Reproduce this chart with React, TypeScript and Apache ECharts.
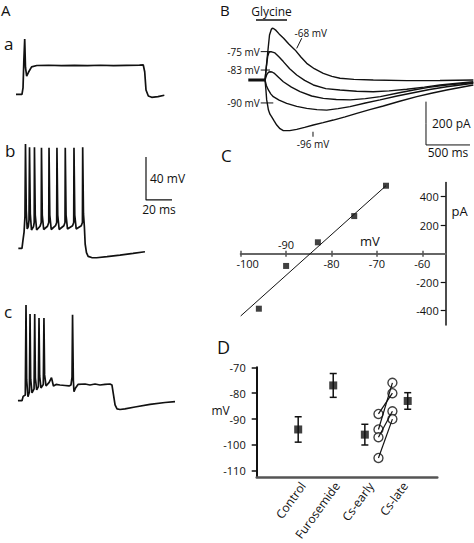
import React, { useEffect, useRef } from "react";
import * as echarts from "echarts";

const FONT = "'Open Sans', 'DejaVu Sans', sans-serif";

// ---- Panel A: membrane potential traces [time ms, potential mV] ----
const traceA: number[][] = [
  [0, -70], [4.6, -70], [5.4, -64], [6.0, -40], [6.7, -18.6], [7.3, -45], [8.2, -53],
  [9.6, -49.5], [12, -44.5], [16, -43.2], [25, -43.0], [35, -43.4], [45, -43.1],
  [55, -43.3], [65, -43.0], [75, -43.4], [85, -43.1], [95, -42.9], [97.9, -42.7],
  [99.0, -49], [100, -66], [101.8, -71.6], [104.4, -72.8], [109.2, -72.2], [114.1, -70.9],
];

const traceB: number[][] = [
  [1.8, -70], [4.6, -70], [5.3, -63], [6.2, -55], [6.9, -40], [7.3, 27], [7.9, -35],
  [8.6, -52], [9.4, -50], [10.0, -44], [10.4, 24], [11.0, -38], [11.9, -53], [13.4, -50],
  [14.0, -46], [14.2, 24], [14.8, -39], [15.9, -53], [18.5, -49.5], [19.4, -46], [19.6, 23.5],
  [20.2, -39], [21.3, -52.5], [24.2, -49.5], [25.2, -46], [25.4, 23.5], [26.0, -39],
  [27.1, -52.5], [30.4, -49], [31.3, -46], [31.5, 23.5], [32.1, -39], [33.2, -52.5],
  [36.8, -49], [37.7, -46], [37.9, 23.5], [38.5, -39], [39.6, -52], [43.5, -49], [44.4, -46],
  [44.6, 23.5], [45.2, -39], [46.3, -52], [50.2, -49], [51.1, -46], [51.3, 24], [51.9, -38],
  [52.6, -50], [53.2, -66], [54.2, -74], [55.5, -77.5], [58.2, -78.6], [62, -78.8],
  [70, -77.8], [80, -76.4], [90, -74.8], [99.2, -73.2],
];

const traceC: number[][] = [
  [1.5, -70], [4.6, -70], [5.5, -66], [7.15, -64.7], [7.7, 19.0], [8.2, -50.7], [9.2, -66.3],
  [10.3, -61.9], [10.8, 10.7], [11.3, -50], [12.3, -62.8], [13.9, -59], [14.4, 10.7],
  [14.9, -49], [15.9, -60], [17.2, -57], [17.7, 6.9], [18.2, -47], [19.2, -58.2],
  [21.0, -55], [21.5, 6.9], [22.0, -46], [23.1, -56.3], [25.5, -53], [27.3, -48.6],
  [28.8, -56.3], [30.8, -54.9], [33.8, -55.4], [37.7, -55.9], [40.8, -56.3], [42.3, -55.4],
  [43.1, -48], [43.5, 10], [44.1, -50.7], [44.6, -61.6], [45.8, -58.2], [47.7, -54.9],
  [53.1, -54.5], [56.9, -55.4], [60.8, -54.5], [64.6, -55.4], [68.5, -54.9], [72.3, -54.5],
  [73.8, -55.4], [75, -64.7], [76.2, -74], [77.7, -77.7], [80, -78.2], [83.8, -77.7],
  [91.5, -75.9], [103.1, -73.5], [114.6, -71.7], [122.3, -70.9],
];

// ---- Panel B: glycine-evoked currents [time ms, current pA] ----
const holdingLabels = ["-68 mV", "-75 mV", "-83 mV", "-90 mV", "-96 mV"];
const current68: number[][] = [
  [190, 0], [212, 92], [241, 208], [262, 234], [273, 239], [290, 237], [315, 229], [350, 213],
  [401, 193], [460, 166], [531, 139], [600, 105], [664, 77], [750, 52], [852, 31], [950, 17],
  [1042, 8], [1200, 3], [1420, 0], [1800, -3], [2178, -2], [2557, 0],
];
const current75: number[][] = [
  [190, 0], [205, 60], [220, 108], [235, 128], [247, 131], [265, 130], [303, 125], [350, 106],
  [398, 85], [470, 52], [550, 23], [640, -2], [739, -23], [880, -40], [1042, -46], [1230, -52],
  [1420, -54], [1600, -50], [1800, -43], [2000, -33], [2178, -23], [2557, -8],
];
const current83: number[][] = [
  [190, 0], [210, 25], [230, 36], [247, 38], [270, 37], [292, 32], [340, 14], [398, -8],
  [490, -33], [588, -54], [720, -74], [852, -85], [1000, -90], [1159, -92], [1330, -86],
  [1500, -77], [1700, -60], [1878, -46], [2050, -34], [2255, -23], [2557, -12],
];
const current90: number[][] = [
  [190, 0], [205, -25], [228, -46], [255, -64], [284, -77], [350, -93], [436, -108],
  [550, -122], [664, -131], [780, -137], [891, -139], [1020, -132], [1156, -123],
  [1330, -106], [1497, -92], [1690, -74], [1875, -59], [2060, -44], [2255, -31], [2557, -15],
];
const current96: number[][] = [
  [190, 0], [200, -45], [209, -92], [229, -139], [246, -158], [266, -170], [295, -190],
  [323, -208], [360, -225], [398, -234], [470, -234], [550, -228], [640, -219], [739, -208],
  [850, -197], [966, -185], [1100, -170], [1232, -154], [1380, -137], [1534, -120],
  [1720, -98], [1914, -77], [2080, -61], [2255, -46], [2557, -23],
];
const holdingSegment: number[][] = [[0, 0], [190, 0]];
const glycineWindow = [87.5, 440];
const glycineLevel = 277;

// ---- Panel C: current–voltage relation ----
const ivVoltage = [-96, -90, -83, -75, -68];
const ivCurrent = [-386, -86, 80, 264, 477];
const ivFit: number[][] = [[-100, -437], [-68, 477]];
const ivXTicks = [-100, -90, -80, -70, -60];
const ivYTicks = [-400, -200, 200, 400];

// ---- Panel D: reversal potentials ----
const conditions = ["Control", "Furosemide", "Cs-early", "Cs-late"];
const meanPos = [0.86, 1.89, 2.82, 4.08];
const meanMv = [-94, -77, -96, -83];
const semMv = [4.9, 4.6, 4.0, 3.2];
const csEarlyMv = [-88, -94, -97, -105];
const csLateMv = [-80, -76, -87, -90];
const csEarlyPos = 3.22;
const csLatePos = 3.63;
const dTicks = [-110, -100, -90, -80, -70];

const black = "#111";

// axis indices per panel: [xAxisIndex, yAxisIndex]
const AX = { a: [0, 0], b: [1, 1], c: [2, 2], B: [3, 3], C: [4, 4], D: [6, 5] };

// I–V grid: the voltage axis sits on the 0 pA line, half-way up the plot
const IV_GRID_H = 142.5;

function tracer(data: number[][], ax: number[], width = 1.6) {
  return {
    type: "line",
    xAxisIndex: ax[0],
    yAxisIndex: ax[1],
    data,
    showSymbol: false,
    symbol: "none",
    silent: true,
    lineStyle: { color: black, width },
  };
}

function annotated(data: any[], ax: number[], width = 1.2) {
  return {
    type: "line",
    xAxisIndex: ax[0],
    yAxisIndex: ax[1],
    data,
    symbol: "circle",
    symbolSize: 0,
    showSymbol: true,
    silent: true,
    lineStyle: { color: black, width },
    itemStyle: { color: black },
    label: { show: false, fontFamily: FONT, color: black },
  };
}

function lbl(value: number[], text: string, extra: any) {
  return {
    value,
    label: { show: true, formatter: text, fontFamily: FONT, color: black, ...extra },
  };
}

export default function App() {
  const ref = useRef<HTMLDivElement>(null);

  useEffect(() => {
    if (!ref.current) return;
    const chart = echarts.init(ref.current, null, { renderer: "svg" });

    const hidden = { show: false };
    const grids = [
      { left: 16, top: 29.8, width: 162.5, height: 75.25 },
      { left: 16, top: 130.05, width: 162.5, height: 129 },
      { left: 16, top: 298.55, width: 162.5, height: 118.25 },
      { left: 248.3, top: 15.05, width: 225.3, height: 151.55 },
      { left: 240.7, top: 182.45, width: 205, height: IV_GRID_H },
      { left: 256.7, top: 367.3, width: 180.6, height: 113.4 },
    ];

    const xAxis: any[] = [
      { type: "value", gridIndex: 0, min: 0, max: 125, ...hidden },
      { type: "value", gridIndex: 1, min: 0, max: 125, ...hidden },
      { type: "value", gridIndex: 2, min: 0, max: 125, ...hidden },
      { type: "value", gridIndex: 3, min: 0, max: 2560, ...hidden },
      {
        type: "value",
        gridIndex: 4,
        min: -100,
        max: -54.85,
        position: "bottom",
        offset: -IV_GRID_H / 2,
        axisLine: { show: true, onZero: false, lineStyle: { color: "#666", width: 2 } },
        axisTick: { show: true, length: 3, customValues: ivXTicks, lineStyle: { color: "#555", width: 1.5 } },
        axisLabel: {
          customValues: [-100, -80, -70, -60],
          margin: 4,
          fontSize: 11,
          fontFamily: FONT,
          color: black,
          formatter: (v: number) => (v === -100 ? "{s|-100}" : String(v)),
          rich: { s: { padding: [0, 0, 0, 14], fontSize: 11, fontFamily: FONT, color: black } },
        },
        splitLine: { show: false },
      },
      {
        type: "value",
        gridIndex: 4,
        min: -100,
        max: -54.85,
        position: "bottom",
        offset: -IV_GRID_H / 2,
        axisLine: { show: false, onZero: false },
        axisTick: { show: true, inside: true, length: 3, customValues: ivXTicks, lineStyle: { color: "#555", width: 1.5 } },
        axisLabel: {
          inside: true,
          customValues: [-90],
          margin: 4,
          fontSize: 11,
          fontFamily: FONT,
          color: black,
        },
        splitLine: { show: false },
      },
      {
        type: "value",
        gridIndex: 5,
        min: -0.36,
        max: 4.95,
        position: "bottom",
        axisLine: { show: true, onZero: false, lineStyle: { color: "#555", width: 2.5 } },
        axisTick: { show: false },
        axisLabel: {
          customValues: [1, 2, 3, 4],
          rotate: 54,
          margin: 6,
          fontSize: 12,
          fontFamily: FONT,
          color: black,
          formatter: (v: number) => conditions[Math.round(v) - 1] ?? "",
        },
        splitLine: { show: false },
      },
    ];

    const yAxis: any[] = [
      { type: "value", gridIndex: 0, min: -80, max: -10, ...hidden },
      { type: "value", gridIndex: 1, min: -80, max: 40, ...hidden },
      { type: "value", gridIndex: 2, min: -85, max: 25, ...hidden },
      { type: "value", gridIndex: 3, min: -400, max: 300, ...hidden },
      {
        type: "value",
        gridIndex: 4,
        min: -500,
        max: 500,
        position: "right",
        axisLine: { show: true, onZero: false, lineStyle: { color: black, width: 1.5 } },
        axisTick: { show: true, inside: true, length: 5, customValues: ivYTicks, lineStyle: { color: black, width: 1.2 } },
        axisLabel: { inside: true, customValues: ivYTicks, margin: 7, fontSize: 11, fontFamily: FONT, color: black },
        splitLine: { show: false },
      },
      {
        type: "value",
        gridIndex: 5,
        min: -112.5,
        max: -70,
        axisLine: { show: true, onZero: false, lineStyle: { color: black, width: 2 } },
        axisTick: { show: true, length: 5, customValues: dTicks, lineStyle: { color: black, width: 1.5 } },
        axisLabel: { customValues: dTicks, margin: 11, fontSize: 11, fontFamily: FONT, color: black },
        splitLine: { show: false },
      },
    ];

    const currents = [current68, current75, current83, current90, current96];

    const series: any[] = [
      tracer(traceA, AX.a, 1.7),
      tracer(traceB, AX.b, 1.7),
      tracer(traceC, AX.c, 1.7),
      // 40 mV / 20 ms scale bar
      annotated(
        [
          [100, 15],
          lbl([100, -5], "40 mV", { position: "right", distance: 4, fontSize: 12 }),
          [100, -25],
          lbl([110, -25], "20 ms", { position: "bottom", distance: 4, fontSize: 12 }),
          [120, -25],
        ],
        AX.b,
        1.2
      ),
      // glycine currents
      ...currents.map((c) => tracer(c, AX.B, 1.4)),
      tracer(holdingSegment, AX.B, 3),
      annotated(
        [
          [glycineWindow[0], glycineLevel],
          lbl([(glycineWindow[0] + glycineWindow[1]) / 2, glycineLevel], "Glycine", {
            position: "top",
            distance: 3,
            fontSize: 12,
          }),
          [glycineWindow[1], glycineLevel],
        ],
        AX.B,
        1.5
      ),
      annotated(
        [lbl([607, 193], holdingLabels[0], { position: "top", distance: 0, offset: [9, 0], fontSize: 10 }), [550, 146]],
        AX.B,
        1
      ),
      annotated(
        [lbl([141, 131], holdingLabels[1], { position: "left", distance: 1, fontSize: 10 }), [266, 131]],
        AX.B,
        1
      ),
      annotated(
        [lbl([141, 46], holdingLabels[2], { position: "left", distance: 1, fontSize: 10 }), [247, 46]],
        AX.B,
        1
      ),
      annotated(
        [lbl([141, -106], holdingLabels[3], { position: "left", distance: 1, fontSize: 10 }), [284, -106]],
        AX.B,
        1
      ),
      annotated(
        [[735, -239], lbl([735, -262], holdingLabels[4], { position: "bottom", distance: 2, fontSize: 10 })],
        AX.B,
        1
      ),
      // 200 pA / 500 ms scale bar
      annotated(
        [
          [2019, -100],
          lbl([2019, -200], "200 pA", { position: "right", distance: 6, fontSize: 12 }),
          [2019, -300],
          lbl([2269, -300], "500 ms", { position: "bottom", distance: 2, fontSize: 12 }),
          [2519, -300],
        ],
        AX.B,
        1
      ),
      // I–V fit and points
      {
        type: "line",
        xAxisIndex: AX.C[0],
        yAxisIndex: AX.C[1],
        data: ivFit,
        symbol: "none",
        silent: true,
        lineStyle: { color: black, width: 1 },
      },
      {
        type: "scatter",
        xAxisIndex: AX.C[0],
        yAxisIndex: AX.C[1],
        data: ivVoltage.map((v, i) => [v, ivCurrent[i]]),
        symbol: "rect",
        symbolSize: 6,
        silent: true,
        itemStyle: { color: black },
      },
      // Panel D: paired Cs recordings
      ...csEarlyMv.map((e, i) => ({
        type: "line",
        xAxisIndex: AX.D[0],
        yAxisIndex: AX.D[1],
        data: [
          [csEarlyPos, e],
          [csLatePos, csLateMv[i]],
        ],
        symbol: "none",
        silent: true,
        lineStyle: { color: black, width: 1.2 },
      })),
      {
        type: "custom",
        xAxisIndex: AX.D[0],
        yAxisIndex: AX.D[1],
        silent: true,
        data: meanMv.map((m, i) => [meanPos[i], m - semMv[i], m + semMv[i]]),
        renderItem: (_p: any, api: any) => {
          const x = api.value(0);
          const lo = api.coord([x, api.value(1)]);
          const hi = api.coord([x, api.value(2)]);
          const w = 3.5;
          const st = { stroke: black, lineWidth: 1.5 };
          return {
            type: "group",
            children: [
              { type: "line", shape: { x1: lo[0], y1: lo[1], x2: hi[0], y2: hi[1] }, style: st },
              { type: "line", shape: { x1: lo[0] - w, y1: lo[1], x2: lo[0] + w, y2: lo[1] }, style: st },
              { type: "line", shape: { x1: hi[0] - w, y1: hi[1], x2: hi[0] + w, y2: hi[1] }, style: st },
            ],
          };
        },
      },
      {
        type: "scatter",
        xAxisIndex: AX.D[0],
        yAxisIndex: AX.D[1],
        data: meanMv.map((m, i) => [meanPos[i], m]),
        symbol: "rect",
        symbolSize: 8,
        silent: true,
        itemStyle: { color: black },
      },
      {
        type: "scatter",
        xAxisIndex: AX.D[0],
        yAxisIndex: AX.D[1],
        data: [
          ...csEarlyMv.map((v) => [csEarlyPos, v]),
          ...csLateMv.map((v) => [csLatePos, v]),
        ],
        symbol: "circle",
        symbolSize: 9,
        silent: true,
        itemStyle: { color: "#fff", borderColor: black, borderWidth: 1.4 },
      },
    ];

    const txt = (text: string, x: number, y: number, size: number, align = "left") => ({
      type: "text",
      x,
      y,
      silent: true,
      style: { text, fontSize: size, fontFamily: FONT, fill: black, align, verticalAlign: "middle" },
    });

    chart.setOption({
      animation: false,
      backgroundColor: "#fff",
      grid: grids,
      xAxis,
      yAxis,
      series,
      graphic: [
        txt("A", 1, 9.5, 15),
        txt("B", 220, 9.5, 15),
        txt("C", 221, 155, 17),
        txt("D", 217, 347, 18),
        txt("a", 4, 43, 17),
        txt("b", 5, 150, 17),
        txt("c", 4, 311, 17),
        txt("pA", 451.5, 210.7, 13),
        txt("mV", 360, 240.7, 13),
        txt("mV", 211.5, 410, 12),
      ],
    });

    return () => chart.dispose();
  }, []);

  return (
    <div
      ref={ref}
      style={{ position: "fixed", left: 0, top: 0, width: 474, height: 543, background: "#fff" }}
    />
  );
}
